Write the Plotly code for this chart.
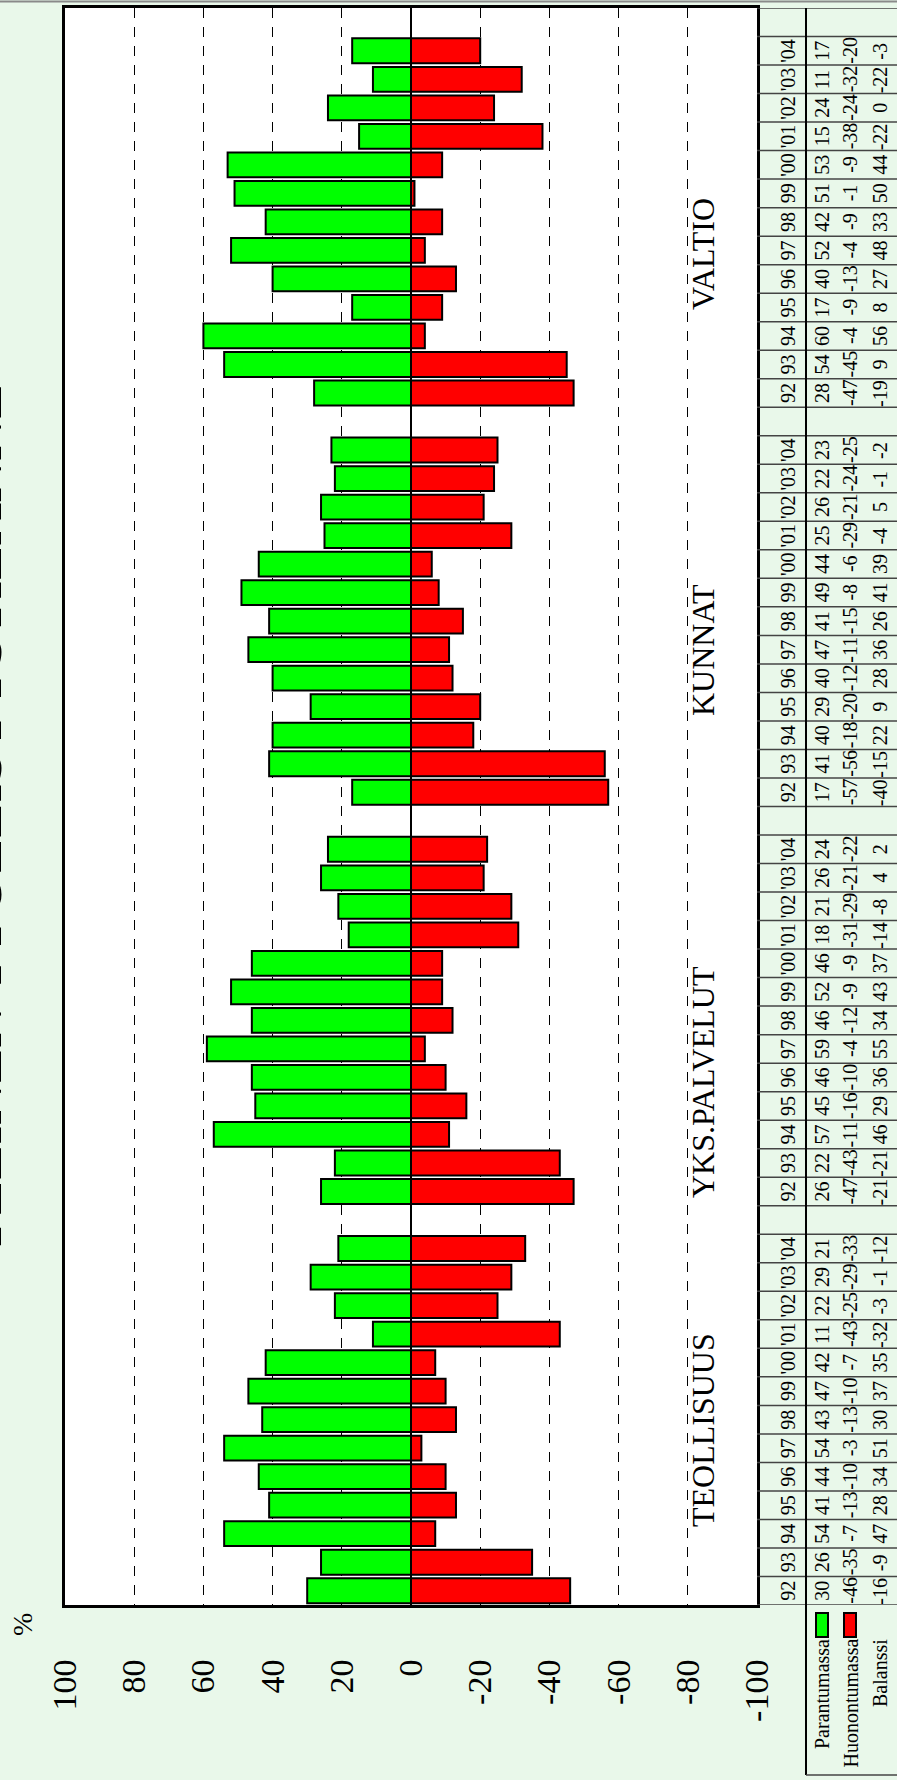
import plotly.graph_objects as go

# ---------------- data ----------------
groups = ["TEOLLISUUS", "YKS.PALVELUT", "KUNNAT", "VALTIO"]
years = ["92", "93", "94", "95", "96", "97", "98", "99", "'00", "'01", "'02", "'03", "'04"]

parantumassa = {
    "TEOLLISUUS":   [30, 26, 54, 41, 44, 54, 43, 47, 42, 11, 22, 29, 21],
    "YKS.PALVELUT": [26, 22, 57, 45, 46, 59, 46, 52, 46, 18, 21, 26, 24],
    "KUNNAT":       [17, 41, 40, 29, 40, 47, 41, 49, 44, 25, 26, 22, 23],
    "VALTIO":       [28, 54, 60, 17, 40, 52, 42, 51, 53, 15, 24, 11, 17],
}
huonontumassa = {
    "TEOLLISUUS":   [-46, -35, -7, -13, -10, -3, -13, -10, -7, -43, -25, -29, -33],
    "YKS.PALVELUT": [-47, -43, -11, -16, -10, -4, -12, -9, -9, -31, -29, -21, -22],
    "KUNNAT":       [-57, -56, -18, -20, -12, -11, -15, -8, -6, -29, -21, -24, -25],
    "VALTIO":       [-47, -45, -4, -9, -13, -4, -9, -1, -9, -38, -24, -32, -20],
}
balanssi = {
    "TEOLLISUUS":   [-16, -9, 47, 28, 34, 51, 30, 37, 35, -32, -3, -1, -12],
    "YKS.PALVELUT": [-21, -21, 46, 29, 36, 55, 34, 43, 37, -14, -8, 4, 2],
    "KUNNAT":       [-40, -15, 22, 9, 28, 36, 26, 41, 39, -4, 5, -1, -2],
    "VALTIO":       [-19, 9, 56, 8, 27, 48, 33, 50, 44, -22, 0, -22, -3],
}
value_ticks = [100, 80, 60, 40, 20, 0, -20, -40, -60, -80, -100]
title_text = "YLEINEN TYÖLLISYYSTILANNE"

# ---------------- layout geometry ----------------
W, H = 897, 1780
L, R, T, B = 65, 140, 8, 175
PW, PH = W - L - R, H - T - B
SLOT = len(years) + 1  # one blank slot between groups


def xp(px):
    return (px - L) / PW


def yp(py):
    return (H - B - py) / PH


FONT = "Liberation Serif, Times New Roman, serif"
GREEN, RED = "#00FF00", "#FF0000"
BG = "#E9F8EA"

pos, pv, hv, ylab, bv = [], [], [], [], []
for g, name in enumerate(groups):
    for i, yr in enumerate(years):
        pos.append(g * SLOT + i)
        pv.append(parantumassa[name][i])
        hv.append(huonontumassa[name][i])
        bv.append(balanssi[name][i])
        ylab.append(yr)

n_slots = len(groups) * SLOT - 1

fig = go.Figure()
fig.add_trace(go.Bar(x=pv, y=pos, orientation="h", width=0.87, name="Parantumassa",
                     marker=dict(color=GREEN, line=dict(color="black", width=2))))
fig.add_trace(go.Bar(x=hv, y=pos, orientation="h", width=0.87, name="Huonontumassa",
                     marker=dict(color=RED, line=dict(color="black", width=2))))

ann = []
shapes = []

# table: horizontal separators at every slot boundary
tbl_x0, tbl_x1 = xp(L + PW), xp(W)
for k in range(-1, n_slots + 1):
    shapes.append(dict(type="line", xref="paper", yref="y", x0=tbl_x0, x1=tbl_x1,
                       y0=k + 0.5, y1=k + 0.5, line=dict(color="#444444", width=1.5)))
# vertical separator after years column
shapes.append(dict(type="line", xref="paper", yref="paper", x0=xp(806), x1=xp(806),
                   y0=yp(T), y1=yp(1775), line=dict(color="black", width=2)))
# bottom of legend cell
shapes.append(dict(type="line", xref="paper", yref="paper", x0=xp(806), x1=xp(W),
                   y0=yp(1775), y1=yp(1775), line=dict(color="#444444", width=1.5)))
# top page border
shapes.append(dict(type="line", xref="paper", yref="paper", x0=xp(0), x1=xp(W),
                   y0=yp(1.5), y1=yp(1.5), line=dict(color="#8a8a8a", width=2)))

# table texts
for p, yr, a, b, c in zip(pos, ylab, pv, hv, bv):
    for px, txt in ((788, yr), (822, str(a)), (850, str(b)), (880, str(c))):
        ann.append(dict(x=xp(px), y=p, xref="paper", yref="y", text=txt, showarrow=False,
                        textangle=-90, font=dict(family=FONT, size=20, color="black"),
                        xanchor="center", yanchor="middle"))

# legend cell
for px, name, col in ((822, "Parantumassa", GREEN), (850, "Huonontumassa", RED), (880, "Balanssi", None)):
    ann.append(dict(x=xp(px), y=yp(1637), xref="paper", yref="paper", text=name, showarrow=False,
                    textangle=-90, font=dict(family=FONT, size=20, color="black"),
                    xanchor="center", yanchor="top"))
    if col:
        shapes.append(dict(type="rect", xref="paper", yref="paper", x0=xp(px - 6), x1=xp(px + 6),
                           y0=yp(1613), y1=yp(1637), fillcolor=col,
                           line=dict(color="black", width=2)))

# group labels inside the plot
group_centers = {"TEOLLISUUS": 1430, "YKS.PALVELUT": 1082, "KUNNAT": 650, "VALTIO": 254}
for name in groups:
    ann.append(dict(x=xp(703), y=yp(group_centers[name]), xref="paper", yref="paper", text=name,
                    showarrow=False, textangle=-90,
                    font=dict(family=FONT, size=32, color="black"),
                    xanchor="center", yanchor="middle"))

# % label
ann.append(dict(x=xp(22), y=yp(1625), xref="paper", yref="paper", text="%", showarrow=False,
                textangle=-90, font=dict(family=FONT, size=28, color="black"),
                xanchor="center", yanchor="middle"))

# title (partly outside the page on the left)
ann.append(dict(x=xp(16), y=yp(820), xref="paper", yref="paper", text=title_text, showarrow=False,
                textangle=-90, font=dict(family=FONT, size=58, color="black"),
                xanchor="right", yanchor="middle"))

fig.update_layout(
    width=W, height=H, autosize=False,
    margin=dict(l=L, r=R, t=T, b=B),
    paper_bgcolor=BG, plot_bgcolor="white",
    barmode="relative", showlegend=False,
    annotations=ann, shapes=shapes,
    xaxis=dict(range=[100, -100], tickvals=value_ticks,
               ticktext=[str(v) for v in value_ticks], tickangle=-90,
               tickfont=dict(family=FONT, size=34, color="black"),
               ticks="", ticklabelstandoff=38, automargin=False,
               showgrid=True, gridcolor="black", gridwidth=1, griddash="10px,9px",
               zeroline=True, zerolinecolor="black", zerolinewidth=2,
               showline=True, mirror=True, linecolor="black", linewidth=3),
    yaxis=dict(range=[-0.5, n_slots + 0.5], showticklabels=False, ticks="",
               showgrid=False, zeroline=False, automargin=False,
               showline=True, mirror=True, linecolor="black", linewidth=3),
)

fig.write_html(
    "out.html",
    config={"displayModeBar": False, "responsive": False},
    post_script="document.body.style.margin='0px';document.body.style.overflow='hidden';"
                "document.body.style.backgroundColor='" + BG + "';",
)
